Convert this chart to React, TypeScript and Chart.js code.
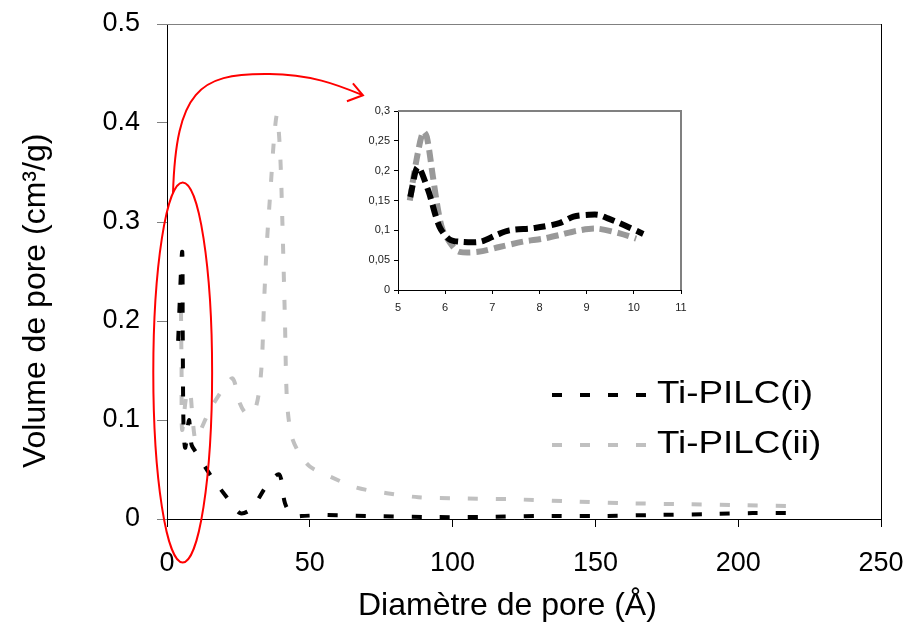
import React, { useEffect, useRef } from "react";
import { Chart, registerables } from "chart.js";

Chart.register(...registerables);

const FONT = "'Liberation Sans', Arial, Helvetica, sans-serif";

// ---- Main chart: pore size distribution (diameter in Å, volume in cm3/g) ----
const diamI = [3.9, 5.3, 5.5, 5.8, 6.4, 7.7, 8.6, 10.5, 15.5, 22, 25.5, 28.5, 31, 35, 39.3, 41.3, 44, 47, 55, 70, 90, 110, 130, 150, 170, 190, 205, 218];
const volI = [0.18, 0.27, 0.19, 0.09, 0.072, 0.1, 0.075, 0.066, 0.043, 0.018, 0.006, 0.008, 0.016, 0.034, 0.045, 0.016, 0.003, 0.003, 0.004, 0.003, 0.002, 0.002, 0.003, 0.003, 0.004, 0.005, 0.006, 0.006];

const diamII = [4.9, 5.1, 5.3, 6.8, 8.0, 9.0, 10.0, 11.5, 15, 20, 23, 25.5, 28, 31, 33, 34, 35, 36.3, 37.5, 38.5, 39.6, 40.4, 41.3, 42, 43.5, 46, 50, 57, 66, 77, 88, 100, 120, 140, 160, 180, 200, 218];
const volII = [0.21, 0.15, 0.09, 0.125, 0.13, 0.1, 0.08, 0.088, 0.11, 0.133, 0.142, 0.117, 0.106, 0.112, 0.15, 0.22, 0.28, 0.335, 0.385, 0.408, 0.37, 0.3, 0.2, 0.12, 0.085, 0.068, 0.053, 0.043, 0.032, 0.026, 0.022, 0.021, 0.02, 0.018, 0.016, 0.015, 0.014, 0.013];

const seriesNames = ["Ti-PILC(i)", "Ti-PILC(ii)"];

const mainXTicks = [0, 50, 100, 150, 200, 250];
const mainYTicks = [0, 0.1, 0.2, 0.3, 0.4, 0.5];
const mainYLabels = ["0", "0.1", "0.2", "0.3", "0.4", "0.5"];

// ---- Inset: zoom on the 5–11 Å range ----
const insetDiamI = [5.26, 5.42, 5.64, 5.88, 6.09, 6.3, 6.75, 7.08, 7.36, 7.9, 8.42, 8.72, 9.05, 9.25, 9.45, 9.7, 10.2];
const insetVolI = [0.156, 0.206, 0.167, 0.106, 0.085, 0.081, 0.081, 0.092, 0.1, 0.104, 0.112, 0.123, 0.126, 0.126, 0.12, 0.112, 0.094];
const insetDiamII = [5.25, 5.39, 5.53, 5.61, 5.74, 5.85, 5.95, 6.16, 6.3, 6.7, 7.15, 7.65, 8.07, 8.42, 8.78, 9.2, 9.7, 10.05];
const insetVolII = [0.15, 0.217, 0.265, 0.257, 0.19, 0.134, 0.1, 0.073, 0.064, 0.064, 0.072, 0.081, 0.086, 0.092, 0.099, 0.103, 0.095, 0.086];

const insetXTicks = [5, 6, 7, 8, 9, 10, 11];
const insetYTicks = [0, 0.05, 0.1, 0.15, 0.2, 0.25, 0.3];
const insetYLabels = ["0", "0,05", "0,1", "0,15", "0,2", "0,25", "0,3"];

const xTitle = "Diamètre de pore (Å)";
const yTitle = "Volume de pore (cm³/g)";

// Red highlight around the narrow-pore region, in data units of the main axes
const ringCenter = { x: 5.5, y: 0.148 };
const ringRadius = { x: 10.3, y: 0.192 };
const arrowPath = [
  [2.1, 0.329],
  [3.2, 0.433], [11.5, 0.4495], [34.3, 0.4495],
  [50, 0.4505], [61, 0.437], [68.6, 0.428],
];
const arrowHead = [[65.1, 0.44], [63.0, 0.422]];

const zip = (xs: number[], ys: number[]) => xs.map((x, i) => ({ x, y: ys[i] }));

// keep the plot area exactly where the layout padding puts it
const fitX = (h: number) => (s: any) => {
  s.height = h;
  s.paddingLeft = 0;
  s.paddingRight = 0;
};
const fitY = (w: number) => (s: any) => {
  s.width = w;
  s.paddingTop = 0;
  s.paddingBottom = 0;
};

const mainFrame = {
  id: "mainFrame",
  afterDraw(chart: any) {
    const { ctx, chartArea: a } = chart;
    ctx.save();
    ctx.lineWidth = 1;
    ctx.strokeStyle = "#808080";
    ctx.beginPath();
    ctx.moveTo(a.left, Math.round(a.top) + 0.5);
    ctx.lineTo(a.right, Math.round(a.top) + 0.5);
    ctx.stroke();
    ctx.strokeStyle = "#000";
    ctx.beginPath();
    ctx.moveTo(Math.round(a.right) + 0.5, a.top);
    ctx.lineTo(Math.round(a.right) + 0.5, a.bottom);
    ctx.stroke();
    ctx.restore();
  },
};

const mainText = {
  id: "mainText",
  afterDraw(chart: any) {
    const { ctx } = chart;
    ctx.save();
    ctx.fillStyle = "#000";
    ctx.font = `32px ${FONT}`;
    ctx.textBaseline = "alphabetic";
    ctx.textAlign = "left";
    ctx.fillText(xTitle, 358, 615);
    ctx.translate(45, 468);
    ctx.rotate(-Math.PI / 2);
    ctx.fillText(yTitle, 0, 0);
    ctx.restore();

    // legend, drawn with each dataset's own line style
    const rows = [395, 445];
    chart.data.datasets.forEach((ds: any, i: number) => {
      const y = rows[i];
      ctx.save();
      ctx.strokeStyle = ds.borderColor;
      ctx.lineWidth = ds.borderWidth;
      ctx.setLineDash(ds.borderDash);
      ctx.lineCap = "butt";
      ctx.beginPath();
      ctx.moveTo(552, y);
      ctx.lineTo(647, y);
      ctx.stroke();
      ctx.setLineDash([]);
      ctx.fillStyle = "#000";
      ctx.font = `32px ${FONT}`;
      ctx.textBaseline = "middle";
      ctx.textAlign = "left";
      ctx.translate(657, y - 1);
      ctx.scale(1.15, 1);
      ctx.fillText(ds.label, 0, 0);
      ctx.restore();
    });
  },
};

const highlight = {
  id: "highlight",
  afterDraw(chart: any) {
    const { ctx } = chart;
    const xs = chart.scales.x;
    const ys = chart.scales.y;
    const px = (v: number) => xs.getPixelForValue(v);
    const py = (v: number) => ys.getPixelForValue(v);
    ctx.save();
    ctx.strokeStyle = "#ff0000";
    ctx.lineWidth = 2;
    const cx = px(ringCenter.x);
    const cy = py(ringCenter.y);
    ctx.beginPath();
    ctx.ellipse(cx, cy, px(ringCenter.x + ringRadius.x) - cx, cy - py(ringCenter.y + ringRadius.y), 0, 0, Math.PI * 2);
    ctx.stroke();

    const p = arrowPath.map(([x, y]) => [px(x), py(y)]);
    ctx.beginPath();
    ctx.moveTo(p[0][0], p[0][1]);
    ctx.bezierCurveTo(p[1][0], p[1][1], p[2][0], p[2][1], p[3][0], p[3][1]);
    ctx.bezierCurveTo(p[4][0], p[4][1], p[5][0], p[5][1], p[6][0], p[6][1]);
    ctx.stroke();
    const tip = p[6];
    ctx.beginPath();
    ctx.moveTo(px(arrowHead[0][0]), py(arrowHead[0][1]));
    ctx.lineTo(tip[0], tip[1]);
    ctx.lineTo(px(arrowHead[1][0]), py(arrowHead[1][1]));
    ctx.stroke();
    ctx.restore();
  },
};

const insetFrame = {
  id: "insetFrame",
  beforeDraw(chart: any) {
    const { ctx, chartArea: a } = chart;
    ctx.save();
    ctx.fillStyle = "#fff";
    ctx.fillRect(a.left, a.top, a.right - a.left, a.bottom - a.top);
    ctx.restore();
  },
  afterDraw(chart: any) {
    const { ctx, chartArea: a } = chart;
    ctx.save();
    ctx.strokeStyle = "#808080";
    ctx.lineWidth = 2;
    ctx.beginPath();
    ctx.moveTo(a.left, a.top);
    ctx.lineTo(a.right, a.top);
    ctx.lineTo(a.right, a.bottom);
    ctx.stroke();
    ctx.restore();
  },
};

export default function App() {
  const mainRef = useRef<HTMLCanvasElement | null>(null);
  const insetRef = useRef<HTMLCanvasElement | null>(null);

  useEffect(() => {
    if (!mainRef.current || !insetRef.current) return;
    const tickFont = { family: FONT, size: 27 };

    const main = new Chart(mainRef.current, {
      type: "line",
      data: {
        datasets: [
          {
            label: seriesNames[0],
            data: zip(diamI, volI),
            borderColor: "#000000",
            borderWidth: 4,
            borderDash: [10, 18],
            borderCapStyle: "butt",
            pointRadius: 0,
            tension: 0.3,
            fill: false,
          },
          {
            label: seriesNames[1],
            data: zip(diamII, volII),
            borderColor: "#c0c0c0",
            borderWidth: 4,
            borderDash: [10, 18],
            borderCapStyle: "butt",
            pointRadius: 0,
            tension: 0.3,
            fill: false,
          },
        ],
      },
      options: {
        animation: false,
        responsive: false,
        events: [],
        layout: { padding: { top: 24, right: 33, left: 0, bottom: 0 } },
        plugins: { legend: { display: false }, tooltip: { enabled: false } },
        scales: {
          x: {
            type: "linear",
            min: 0,
            max: 250,
            afterBuildTicks: (s: any) => {
              s.ticks = mainXTicks.map((v) => ({ value: v }));
            },
            afterFit: fitX(122),
            ticks: { font: tickFont, color: "#000", padding: 20, maxRotation: 0, autoSkip: false },
            grid: { drawOnChartArea: false, drawTicks: true, tickLength: 8, tickColor: "#000" },
            border: { display: true, color: "#000", width: 1 },
          },
          y: {
            type: "linear",
            min: 0,
            max: 0.5,
            afterBuildTicks: (s: any) => {
              s.ticks = mainYTicks.map((v) => ({ value: v }));
            },
            afterFit: fitY(167),
            ticks: {
              font: tickFont,
              color: "#000",
              padding: 17,
              autoSkip: false,
              callback: (_v: any, i: number) => mainYLabels[i],
            },
            grid: { drawOnChartArea: false, drawTicks: true, tickLength: 10, tickColor: "#808080" },
            border: { display: true, color: "#000", width: 1 },
          },
        },
      },
      plugins: [mainFrame, mainText, highlight],
    } as any);

    const insetFont = { family: FONT, size: 11 };
    const inset = new Chart(insetRef.current, {
      type: "line",
      data: {
        datasets: [
          {
            label: seriesNames[0],
            data: zip(insetDiamI, insetVolI),
            borderColor: "#000000",
            borderWidth: 6,
            borderDash: [12, 6],
            borderCapStyle: "butt",
            pointRadius: 0,
            tension: 0.3,
            fill: false,
          },
          {
            label: seriesNames[1],
            data: zip(insetDiamII, insetVolII),
            borderColor: "#999999",
            borderWidth: 6,
            borderDash: [12, 6],
            borderCapStyle: "butt",
            pointRadius: 0,
            tension: 0.3,
            fill: false,
          },
        ],
      },
      options: {
        animation: false,
        responsive: false,
        events: [],
        layout: { padding: { top: 16, right: 9, left: 0, bottom: 0 } },
        plugins: { legend: { display: false }, tooltip: { enabled: false } },
        scales: {
          x: {
            type: "linear",
            min: 5,
            max: 11,
            afterBuildTicks: (s: any) => {
              s.ticks = insetXTicks.map((v) => ({ value: v }));
            },
            afterFit: fitX(45),
            ticks: { font: insetFont, color: "#222", padding: 7, maxRotation: 0, autoSkip: false },
            grid: { drawOnChartArea: false, drawTicks: true, tickLength: 4, tickColor: "#000" },
            border: { display: true, color: "#000", width: 1 },
          },
          y: {
            type: "linear",
            min: 0,
            max: 0.3,
            afterBuildTicks: (s: any) => {
              s.ticks = insetYTicks.map((v) => ({ value: v }));
            },
            afterFit: fitY(58),
            ticks: {
              font: insetFont,
              color: "#222",
              padding: 4,
              autoSkip: false,
              callback: (_v: any, i: number) => insetYLabels[i],
            },
            grid: { drawOnChartArea: false, drawTicks: true, tickLength: 4, tickColor: "#000" },
            border: { display: true, color: "#000", width: 1 },
          },
        },
      },
      plugins: [insetFrame],
    } as any);

    return () => {
      main.destroy();
      inset.destroy();
    };
  }, []);

  return (
    <div style={{ position: "absolute", left: 0, top: 0, width: 914, height: 641, background: "#fff" }}>
      <canvas ref={mainRef} width={914} height={641} style={{ position: "absolute", left: 0, top: 0, display: "block" }} />
      <canvas ref={insetRef} width={350} height={240} style={{ position: "absolute", left: 340, top: 95, display: "block" }} />
    </div>
  );
}
